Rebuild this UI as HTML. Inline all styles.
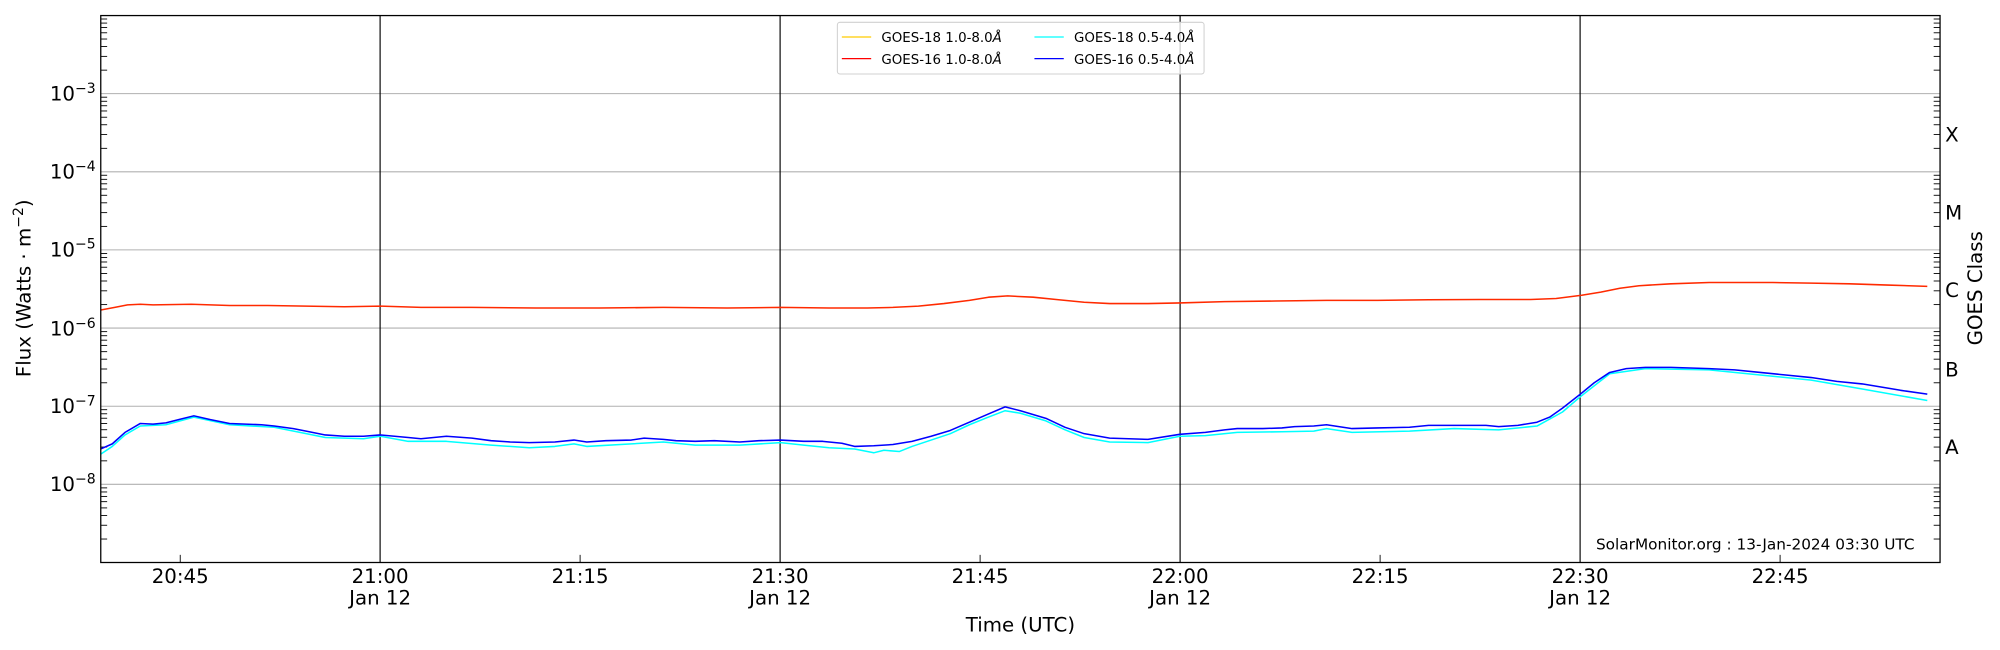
<!DOCTYPE html>
<html><head><meta charset="utf-8"><style>
html,body{margin:0;padding:0;background:#fff;}
svg{display:block;font-family:"DejaVu Sans","Liberation Sans",sans-serif;}
</style></head><body>
<svg id="s" width="2000" height="650" viewBox="0 0 1568 509.6" xmlns="http://www.w3.org/2000/svg">
<defs>
<g id="dec" stroke="#000" stroke-width="0.7">
<line x1="0" x2="5" y1="-18.4" y2="-18.4"/><line x1="0" x2="5" y1="-29.2" y2="-29.2"/>
<line x1="0" x2="5" y1="-36.9" y2="-36.9"/><line x1="0" x2="5" y1="-42.8" y2="-42.8"/>
<line x1="0" x2="5" y1="-47.7" y2="-47.7"/><line x1="0" x2="5" y1="-51.8" y2="-51.8"/>
<line x1="0" x2="5" y1="-55.3" y2="-55.3"/><line x1="0" x2="5" y1="-58.5" y2="-58.5"/>
</g>
</defs>
<rect width="1568" height="509.6" fill="#fff"/>
<g stroke="#b0b0b0" stroke-width="0.8">
<line x1="79" x2="1521" y1="73.4" y2="73.4"/><line x1="79" x2="1521" y1="134.7" y2="134.7"/>
<line x1="79" x2="1521" y1="195.9" y2="195.9"/><line x1="79" x2="1521" y1="257.2" y2="257.2"/>
<line x1="79" x2="1521" y1="318.5" y2="318.5"/><line x1="79" x2="1521" y1="379.7" y2="379.7"/>
</g>
<g stroke="#000" stroke-width="0.9">
<line x1="298" x2="298" y1="12.2" y2="441"/><line x1="611.6" x2="611.6" y1="12.2" y2="441"/>
<line x1="925.2" x2="925.2" y1="12.2" y2="441"/><line x1="1238.8" x2="1238.8" y1="12.2" y2="441"/>
</g>
<g>
<use href="#dec" x="79" y="441"/><use href="#dec" x="79" y="379.7"/><use href="#dec" x="79" y="318.5"/>
<use href="#dec" x="79" y="257.2"/><use href="#dec" x="79" y="195.9"/><use href="#dec" x="79" y="134.7"/><use href="#dec" x="79" y="73.4"/>
<g transform="translate(1521,0) scale(-1,1)">
<use href="#dec" x="0" y="441"/><use href="#dec" x="0" y="379.7"/><use href="#dec" x="0" y="318.5"/>
<use href="#dec" x="0" y="257.2"/><use href="#dec" x="0" y="195.9"/><use href="#dec" x="0" y="134.7"/><use href="#dec" x="0" y="73.4"/>
</g>
<g stroke="#000" stroke-width="0.7">
<line x1="141.3" x2="141.3" y1="441" y2="435"/><line x1="454.8" x2="454.8" y1="441" y2="435"/>
<line x1="768.4" x2="768.4" y1="441" y2="435"/><line x1="1082" x2="1082" y1="441" y2="435"/>
<line x1="1395.6" x2="1395.6" y1="441" y2="435"/>
</g>
</g>
<g fill="none" stroke-width="1.2" stroke-linejoin="round">
<polyline stroke="#ff2a00" points="79,243 90,241 100,239 110,238.5 120,239 150,238.5 180,239.5 210,239.5 240,240 270,240.5 298,240 330,241 370,241 420,241.5 470,241.5 520,241 570,241.5 612,241 650,241.5 680,241.5 700,241 720,240 740,238 760,235.5 775,233 790,232 810,233 830,235 850,237 870,238 900,238 925,237.5 960,236.5 1000,236 1040,235.5 1080,235.5 1120,235 1160,234.8 1200,234.8 1220,234 1240,231.5 1255,229 1270,226 1285,224 1310,222.5 1340,221.5 1360,221.5 1390,221.5 1420,222 1450,222.5 1480,223.5 1511,224.5"/>
<polyline stroke="#00ffff" points="79,356 88,350 98,341 110,334 130,333 152,327 180,333 215,335 240,340 255,343 285,344 298,342 320,346 350,346 385,349 415,351 435,350 450,348 460,350 495,348 520,346.5 545,349 580,349 612,347 630,349 650,351 670,352 685,355 693,353 705,354 715,350 730,345 745,340 760,333 775,327 788,322 800,324 820,330 835,337 850,343 870,346.5 900,347 925,342 945,341.5 970,339 1005,338.5 1030,338 1040,336 1060,339 1105,338 1140,336 1175,337 1205,334 1225,323 1239,311 1262,293 1290,289 1340,290 1380,294 1420,298 1460,305 1511,314"/>
<polyline stroke="#0000ff" points="79,352 88,348 98,339 110,332 120,332.5 130,331.5 140,329 152,326 165,329 180,332 205,333 215,334 230,336 240,338 255,341 270,342 285,342 298,341 320,343 330,344 350,342 370,343.5 385,345.5 400,346.5 415,347 435,346.5 450,345 460,346.5 475,345.5 495,345 505,343.5 520,344.5 530,345.5 545,346 560,345.5 580,346.5 595,345.5 612,345 630,346 645,346 660,347.5 670,350 685,349.5 700,348.5 715,346 730,342 745,337.5 760,331 775,324.5 788,319 800,322 820,328 835,335 850,340 870,343.5 900,344.5 925,340.5 945,339 960,337 970,336 990,336 1005,335.5 1015,334.5 1030,334 1040,333 1060,336 1080,335.5 1105,335 1120,333.5 1140,333.5 1165,333.5 1175,334.5 1190,333.5 1205,331 1215,327 1225,320 1239,309 1250,300 1262,292 1275,289 1290,288 1310,288 1340,289 1360,290 1380,292 1400,294 1420,296 1440,299 1460,301 1490,306 1511,309"/>
</g>
<rect x="79" y="12.2" width="1442" height="428.8" fill="none" stroke="#000" stroke-width="1"/>
<g font-size="15.5" text-anchor="end" fill="#000">
<text x="75" y="79">10<tspan dy="-6" font-size="11">−3</tspan></text>
<text x="75" y="140">10<tspan dy="-6" font-size="11">−4</tspan></text>
<text x="75" y="201">10<tspan dy="-6" font-size="11">−5</tspan></text>
<text x="75" y="263">10<tspan dy="-6" font-size="11">−6</tspan></text>
<text x="75" y="324">10<tspan dy="-6" font-size="11">−7</tspan></text>
<text x="75" y="385">10<tspan dy="-6" font-size="11">−8</tspan></text>
</g>
<g font-size="15.5" text-anchor="middle" fill="#000">
<text x="141.3" y="457">20:45</text>
<text x="298" y="457">21:00</text><text x="298" y="474">Jan 12</text>
<text x="454.8" y="457">21:15</text>
<text x="611.6" y="457">21:30</text><text x="611.6" y="474">Jan 12</text>
<text x="768.4" y="457">21:45</text>
<text x="925.2" y="457">22:00</text><text x="925.2" y="474">Jan 12</text>
<text x="1082" y="457">22:15</text>
<text x="1238.8" y="457">22:30</text><text x="1238.8" y="474">Jan 12</text>
<text x="1395.6" y="457">22:45</text>
<text x="800" y="495">Time (UTC)</text>
<text transform="translate(24,226) rotate(-90)">Flux (Watts · m<tspan dy="-6" font-size="11">−2</tspan><tspan dy="6">)</tspan></text>
<text transform="translate(1554,226) rotate(-90)">GOES Class</text>
</g>
<g font-size="15.5" fill="#000">
<text x="1525" y="111">X</text><text x="1525" y="172">M</text><text x="1525" y="233">C</text>
<text x="1525" y="295">B</text><text x="1525" y="356">A</text>
</g>
<text x="1501" y="431" font-size="12" text-anchor="end">SolarMonitor.org : 13-Jan-2024 03:30 UTC</text>
<rect x="656.5" y="17.5" width="287.5" height="40.5" rx="2" fill="#fff" fill-opacity="0.8" stroke="#d0d0d0" stroke-width="0.8"/>
<g stroke-width="1">
<line x1="660" x2="683" y1="29" y2="29" stroke="#ffcc00"/><line x1="660" x2="683" y1="46" y2="46" stroke="#ff0000"/>
<line x1="811" x2="834" y1="29" y2="29" stroke="#00ffff"/><line x1="811" x2="834" y1="46" y2="46" stroke="#0000ff"/>
</g>
<g font-size="10.5" fill="#000">
<text x="691" y="33">GOES-18 1.0-8.0<tspan font-style="italic">Å</tspan></text>
<text x="691" y="50">GOES-16 1.0-8.0<tspan font-style="italic">Å</tspan></text>
<text x="842" y="33">GOES-18 0.5-4.0<tspan font-style="italic">Å</tspan></text>
<text x="842" y="50">GOES-16 0.5-4.0<tspan font-style="italic">Å</tspan></text>
</g>
</svg>
</body></html>
